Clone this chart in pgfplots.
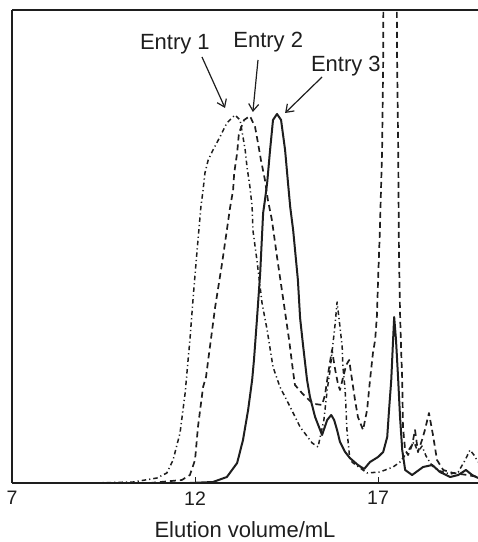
\documentclass[border=0pt]{standalone}
\usepackage{fontspec}
\setmainfont{Liberation Sans}
\usepackage{pgfplots}
\pgfplotsset{compat=1.18}
\usetikzlibrary{arrows.meta}

\definecolor{ink}{HTML}{1E1E1E}

\begin{document}
\begin{tikzpicture}
\begin{axis}[
    scale only axis,
    width=466bp, height=473bp,
    xmin=7, xmax=19.73,
    ymin=0, ymax=473,
    axis x line*=box, axis y line*=left,
    axis line style={-, ink, line width=1.2bp},
    xtick={7,12,17}, xticklabels={7,12,17},
    xtick pos=bottom, ytick=\empty,
    tick align=inside, major tick length=6bp,
    tick style={ink, line width=0.9bp},
    /pgf/number format/assume math mode=true,
    xticklabel style={font=\fontsize{19.5bp}{22bp}\selectfont, text=ink, yshift=-5bp},
    xlabel={Elution volume/mL},
    xlabel style={at={(axis description cs:0.5,0)}, anchor=base, yshift=-54bp,
                  font=\fontsize{22bp}{26bp}\selectfont, text=ink},
    every axis plot/.append style={ink, line join=round},
]
\coordinate (bl) at (rel axis cs:0,0);
\coordinate (tr) at (rel axis cs:1,1);

% Entry 1 (dash-dot)
\addplot[line width=1.5bp, dash pattern=on 4.5bp off 3bp on 1.2bp off 3bp] coordinates {
(8.31,0) (9.13,0) (10.31,1) (10.96,5) (11.23,10) (11.40,23) (11.59,50) (11.73,90)
(11.81,123) (11.86,143) (11.95,186) (12.05,230) (12.16,276) (12.22,293) (12.27,310)
(12.36,323) (12.49,333) (12.68,346) (12.87,360) (13.09,368) (13.23,363) (13.31,346)
(13.37,333) (13.42,316) (13.50,296) (13.56,276) (13.58,253) (13.69,223) (13.83,180)
(13.97,153) (14.13,116) (14.32,96) (14.60,76) (14.87,56) (15.20,40) (15.36,36)
(15.52,63) (15.61,93) (15.69,113) (15.77,140) (15.83,160) (15.88,181) (15.96,156)
(16.02,136) (16.04,116) (16.10,93) (16.15,53) (16.23,23) (16.32,20) (16.51,15)
(16.70,10) (17.05,11) (17.41,16) (17.60,21) (17.74,28) (17.87,35) (17.98,41)
(18.09,31) (18.20,37) (18.31,27) (18.48,17) (18.69,12) (18.97,9) (19.19,11)
(19.38,23) (19.51,33) (19.62,28) (19.73,21)
};

% Entry 2 (dashed)
\addplot[line width=1.7bp, dash pattern=on 6bp off 4bp] coordinates {
(10.77,0) (11.64,3) (11.86,8) (12.00,23) (12.08,56) (12.22,96) (12.30,106) (12.36,123)
(12.55,176) (12.74,220) (12.96,276) (13.04,293) (13.07,310) (13.15,330) (13.20,350)
(13.34,363) (13.50,367) (13.64,356) (13.72,340) (13.80,323) (13.91,303) (13.99,283)
(14.10,263) (14.24,226) (14.40,186) (14.57,143) (14.68,111) (14.73,98) (14.92,90)
(15.14,82) (15.28,79) (15.47,78) (15.55,88) (15.63,108) (15.74,133) (15.83,113)
(15.91,98) (15.96,93) (16.04,105) (16.13,118) (16.21,123) (16.29,103) (16.37,83)
(16.45,66) (16.59,53) (16.70,73) (16.78,103) (16.86,130) (16.92,143) (16.97,168)
(17.00,203) (17.05,253) (17.11,333) (17.14,423) (17.16,633) (17.33,783) (17.49,633)
(17.52,423) (17.55,333) (17.57,233) (17.60,170) (17.63,133) (17.66,103) (17.68,56)
(17.74,33) (17.82,28) (17.93,38) (18.01,53) (18.09,31) (18.20,43) (18.28,53)
(18.39,70) (18.50,48) (18.61,23) (18.78,13) (19.05,10) (19.43,8) (19.73,6)
};

% Entry 3 (solid)
\addplot[line width=2bp] coordinates {
(11.86,0) (12.49,1) (12.87,6) (13.15,20) (13.31,43) (13.45,73) (13.56,103) (13.61,123)
(13.69,163) (13.78,210) (13.86,270) (13.91,283) (13.97,300) (14.05,333) (14.13,363)
(14.24,369) (14.35,363) (14.46,333) (14.54,300) (14.60,276) (14.68,253) (14.81,203)
(14.87,165) (14.95,138) (15.06,103) (15.14,86) (15.28,66) (15.47,48) (15.61,63)
(15.72,68) (15.80,63) (15.88,53) (15.96,41) (16.10,31) (16.23,25) (16.45,18)
(16.62,14) (16.78,21) (17.00,26) (17.14,31) (17.25,46) (17.30,73) (17.36,103)
(17.41,143) (17.44,166) (17.49,143) (17.55,103) (17.60,66) (17.66,33) (17.74,13)
(17.93,8) (18.23,16) (18.48,18) (18.69,11) (18.97,6) (19.19,8) (19.40,13)
(19.57,8) (19.73,5)
};

\begin{scope}[font=\fontsize{22bp}{26bp}\selectfont, text=ink]
\node[anchor=base] at (axis cs:11.45,433) {Entry 1};
\node[anchor=base] at (axis cs:14.00,435) {Entry 2};
\node[anchor=base] at (axis cs:16.12,411) {Entry 3};
\end{scope}
\begin{scope}[ink, line width=1.2bp, -{Straight Barb[length=7bp,width=10bp]}]
\draw (axis cs:12.19,426) -- (axis cs:12.82,375);
\draw (axis cs:13.72,423) -- (axis cs:13.58,371);
\draw (axis cs:15.47,406) -- (axis cs:14.46,370);
\end{scope}
\end{axis}
\pgfresetboundingbox
\path ([xshift=-12bp,yshift=-59bp]bl) rectangle ([yshift=10bp]tr);
\end{tikzpicture}
\end{document}
